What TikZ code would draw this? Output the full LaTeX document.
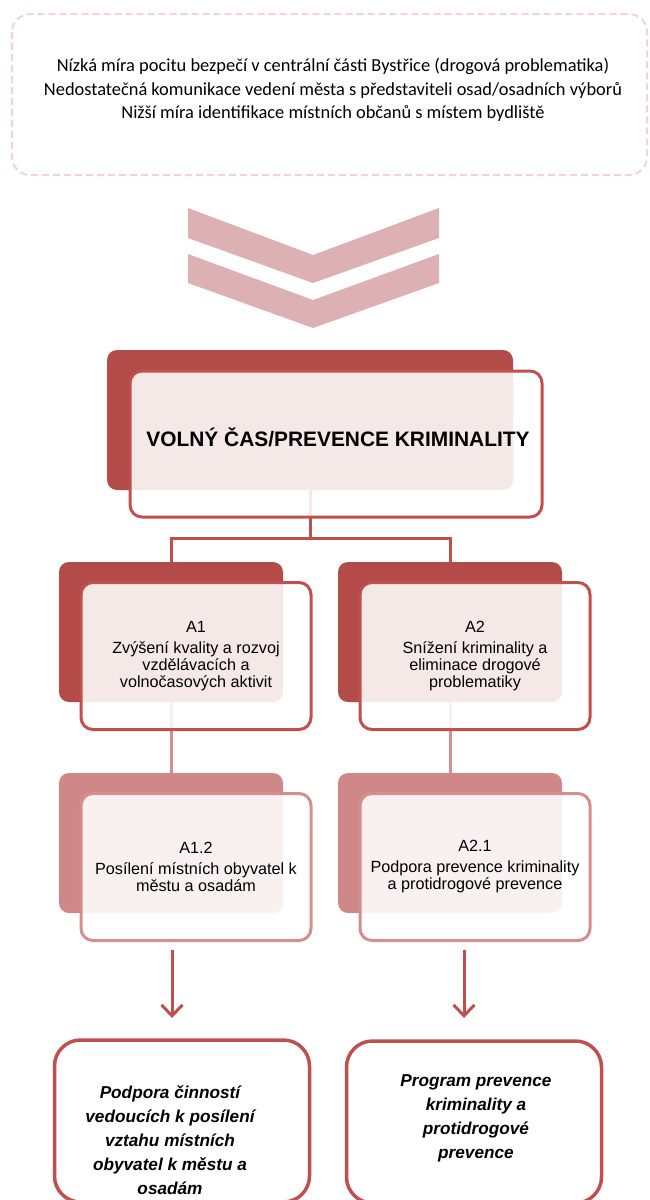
\documentclass[tikz,border=0pt]{standalone}
\usepackage{fontspec}
\setmainfont{Liberation Sans}
\newfontfamily\carlito{Carlito}
\usetikzlibrary{arrows.meta}

\definecolor{darkred}{HTML}{B34B48}
\definecolor{boxline}{HTML}{C0504D}
\definecolor{lightred}{HTML}{CF8787}
\definecolor{lightline}{HTML}{D48E8E}
\definecolor{chevron}{HTML}{DDB1B3}
\definecolor{dashpink}{HTML}{F2D3DB}

\begin{document}
\begin{tikzpicture}[x=1pt,y=-1pt,
    backbox/.style={draw=none,fill=darkred,rounded corners=10pt,
      minimum width=224pt,minimum height=140pt,inner sep=0pt},
    frontbox/.style={draw=boxline,line width=3pt,fill=white,fill opacity=.88,
      text opacity=1,rounded corners=12pt,minimum width=230pt,minimum height=147pt,
      align=center,font=\fontsize{16.2}{17}\selectfont},
    lowback/.style={backbox,fill=lightred},
    lowfront/.style={frontbox,draw=lightline},
    goalbox/.style={draw=boxline,line width=3.5pt,rounded corners=26pt,
      minimum width=255pt,minimum height=162pt},
    goaltext/.style={align=center,font=\fontsize{17.2}{24}\selectfont\bfseries\itshape},
    link/.style={boxline,line width=3pt},
    lowlink/.style={lightline,line width=3pt},
    arr/.style={boxline,line width=3pt,-{Straight Barb[length=11pt,width=21pt,line width=3pt]}}]

\useasboundingbox (0,0) rectangle (649,1200);

% problems
\draw[dashpink,line width=2pt,dash pattern=on 7pt off 4pt,rounded corners=18pt]
  (12,14) rectangle (647,175);
\node[font=\carlito\fontsize{18.4}{23.3}\selectfont,align=center] (problems) at (333,90)
  {Nízká míra pocitu bezpečí v centrální části Bystřice (drogová problematika)\\
   Nedostatečná komunikace vedení města s představiteli osad/osadních výborů\\
   Nižší míra identifikace místních občanů s místem bydliště};

% chevrons
\fill[chevron] (188,208) -- (313,255) -- (439,208) -- (439,238) -- (313,283) -- (188,238) -- cycle;
\fill[chevron] (188,254) -- (313,300) -- (439,254) -- (439,283) -- (313,328) -- (188,283) -- cycle;

% back shapes
\node[backbox,minimum width=406pt] (mainB) at (310,420) {};
\node[backbox] (a1B) at (171,632) {};
\node[backbox] (a2B) at (450,632) {};
\node[lowback] (a12B) at (171,843) {};
\node[lowback] (a21B) at (450,843) {};

% connectors
\draw[link] (mainB.south) -- (310,538) -| (a1B.north);
\draw[link] (310,538) -| (a2B.north);
\draw[lowlink] (a1B.south) -- (a12B.north);
\draw[lowlink] (a2B.south) -- (a21B.north);

% front shapes
\node[frontbox,minimum width=412pt,minimum height=146pt] (mainF) at (336,444) {};
\node[font=\fontsize{20.9}{24}\selectfont\bfseries] (mainT) at (338,437)
  {VOLNÝ ČAS/PREVENCE KRIMINALITY};
\node[frontbox] (a1F) at (196,656)
  {A1\\[4pt]Zvýšení kvality a rozvoj\\vzdělávacích a\\volnočasových aktivit};
\node[frontbox] (a2F) at (475,656)
  {A2\\[4pt]Snížení kriminality a\\eliminace drogové\\problematiky};
\node[lowfront] (a12F) at (196,867)
  {A1.2\\[4pt]Posílení místních obyvatel k\\městu a osadám};
\node[lowfront] (a21F) at (475,867)
  {A2.1\\[4pt]Podpora prevence kriminality\\a protidrogové prevence};

% measures
\node[goalbox] (g1) at (182,1121) {};
\node[goalbox] (g2) at (474,1122) {};
\node[goaltext] (g1T) at (170,1140)
  {Podpora činností\\vedoucích k posílení\\vztahu místních\\obyvatel k městu a\\osadám};
\node[goaltext] (g2T) at (476,1118)
  {Program prevence\\kriminality a\\protidrogové\\prevence};

\coordinate (s1) at (172,950);
\coordinate (e1) at (172,1018);
\coordinate (s2) at (464,950);
\coordinate (e2) at (464,1018);
\draw[arr] (s1) -- (e1);
\draw[arr] (s2) -- (e2);
\end{tikzpicture}
\end{document}
